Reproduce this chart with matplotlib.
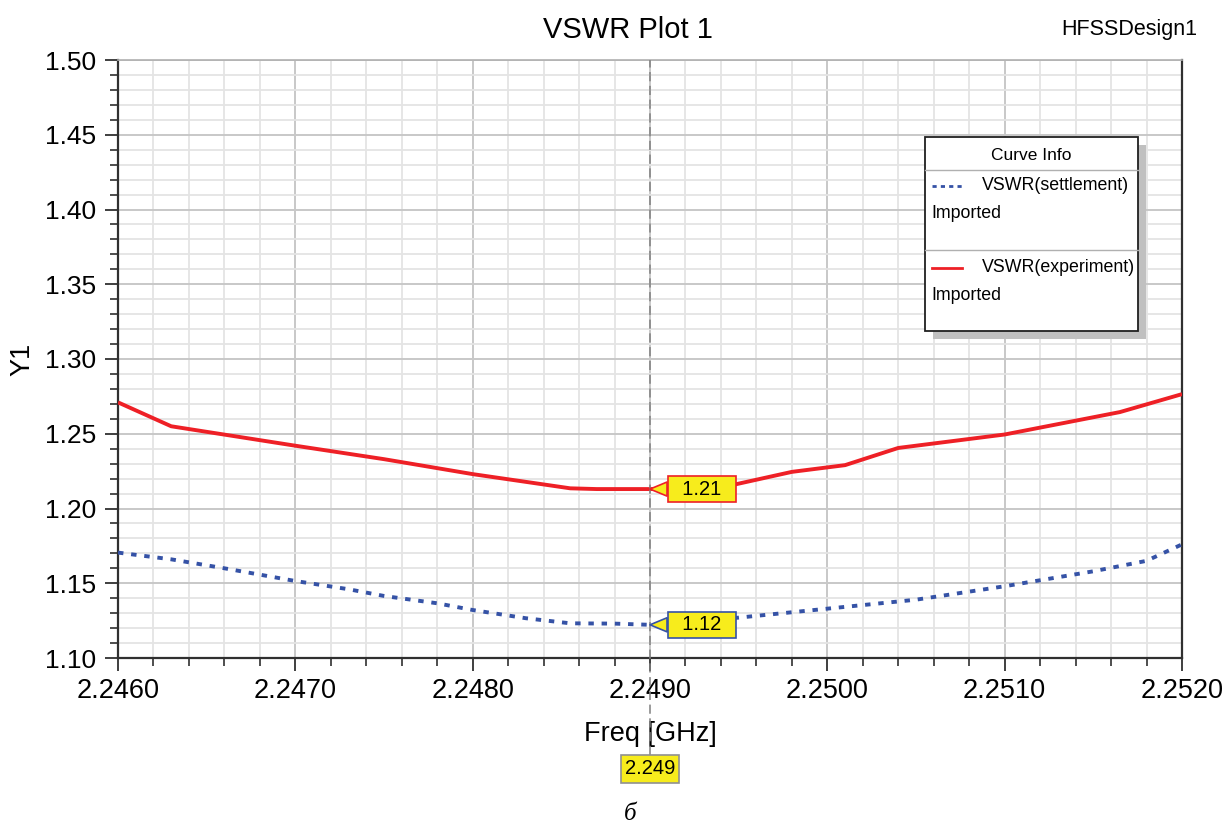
import numpy as np
import matplotlib
matplotlib.use("Agg")
import matplotlib.pyplot as plt
import matplotlib.ticker as ticker
from matplotlib.patches import Rectangle
from matplotlib.lines import Line2D

plt.rcParams['font.family'] = ['Liberation Sans', 'DejaVu Sans']

# --- data ---
exp_freq = [2.2460, 2.2463, 2.2470, 2.2475, 2.2480, 2.24855, 2.2487, 2.2490,
            2.2494, 2.2498, 2.2501, 2.2504, 2.2510, 2.25165, 2.2520]
exp_vswr = [1.271, 1.255, 1.242, 1.233, 1.223, 1.2135, 1.213, 1.213,
            1.214, 1.2245, 1.229, 1.2405, 1.2495, 1.2645, 1.2765]

set_freq = [2.2460, 2.2463, 2.2466, 2.2470, 2.2473, 2.2475, 2.2478, 2.2480,
            2.2483, 2.24855, 2.2488, 2.2490, 2.2495, 2.2500, 2.2505, 2.2510,
            2.2515, 2.2518, 2.2520]
set_vswr = [1.1705, 1.1660, 1.1600, 1.1515, 1.1460, 1.1415, 1.1366, 1.1321,
            1.1266, 1.1232, 1.1230, 1.1222, 1.1270, 1.1330, 1.1390, 1.1480,
            1.1580, 1.1650, 1.1760]

cursor_freq = 2.249
x_range = (2.2460, 2.2520)
y_range = (1.10, 1.50)

RED = '#ee2026'
BLUE = '#3552a6'
YELLOW = '#f7ec1c'

W, H = 1231, 831
fig = plt.figure(figsize=(W / 100, H / 100), dpi=100)
ax = fig.add_axes([118 / W, 1 - 658 / H, 1064 / W, 598 / H])


def fx(px):
    return px / W


def fy(py):
    return 1 - py / H


# grid
ax.set_xlim(*x_range)
ax.set_ylim(*y_range)
ax.xaxis.set_major_locator(ticker.MultipleLocator(0.001))
ax.xaxis.set_minor_locator(ticker.MultipleLocator(0.0002))
ax.yaxis.set_major_locator(ticker.MultipleLocator(0.05))
ax.yaxis.set_minor_locator(ticker.MultipleLocator(0.01))
ax.xaxis.set_major_formatter(ticker.FormatStrFormatter('%.4f'))
ax.yaxis.set_major_formatter(ticker.FormatStrFormatter('%.2f'))
ax.grid(which='minor', color='#e4e4e4', linewidth=1.3, zorder=0)
ax.grid(which='major', color='#c8c8c8', linewidth=1.4, zorder=0)
ax.set_axisbelow(True)

ax.tick_params(axis='both', which='major', direction='out', length=9.5,
               width=1.3, color='#303030', pad=6)
ax.tick_params(axis='both', which='minor', direction='out', length=5.5,
               width=1.2, color='#303030')
ax.tick_params(axis='x', which='major', labelsize=19.5, pad=5)
ax.tick_params(axis='y', which='major', labelsize=19)

for side in ['left', 'bottom', 'right']:
    ax.spines[side].set_color('#303030')
    ax.spines[side].set_linewidth(1.6)
ax.spines['top'].set_color('#b0b0b0')
ax.spines['top'].set_linewidth(1.2)

# curves
ax.plot(exp_freq, exp_vswr, color=RED, linewidth=2.8, zorder=3,
        solid_capstyle='butt')
ax.plot(set_freq, set_vswr, color=BLUE, linewidth=2.8, zorder=3,
        linestyle=(0, (1.4, 2.0)), dash_capstyle='butt')

# cursor line
ax.axvline(cursor_freq, ymin=-0.162, ymax=1, color='#808080', linewidth=1.1,
           linestyle=(0, (6, 3)), clip_on=False, zorder=4)

# marker callouts
for freq, vals, edge in [(exp_freq, exp_vswr, RED), (set_freq, set_vswr, BLUE)]:
    v = np.interp(cursor_freq, freq, vals)
    ax.annotate(f'  {v:.2f}  ', xy=(cursor_freq, v), xytext=(52, 0),
                textcoords='offset pixels', ha='center', va='center',
                fontsize=14.5, color='black', zorder=6,
                bbox=dict(boxstyle='square,pad=0.18', fc=YELLOW, ec=edge, lw=1.2),
                arrowprops=dict(arrowstyle='wedge,tail_width=0.7,shrink_factor=0.5',
                                fc=YELLOW, ec=edge, lw=1.2, shrinkA=0, shrinkB=0))

ax.annotate(f'{cursor_freq:.3f}', xy=(cursor_freq, 0),
            xycoords=('data', 'axes fraction'), xytext=(0, -111),
            textcoords='offset pixels', ha='center', va='center',
            fontsize=14.5, annotation_clip=False, zorder=6,
            bbox=dict(boxstyle='square,pad=0.2', fc=YELLOW, ec='#909090', lw=1.2))

# labels
ax.set_xlabel('Freq [GHz]', fontsize=19.5, labelpad=12)
ax.set_ylabel('Y1', fontsize=19.5, labelpad=7)
fig.text(fx(628), fy(30), 'VSWR Plot 1', fontsize=21, ha='center', va='center')
fig.text(fx(1197), fy(30), 'HFSSDesign1', fontsize=15.5, ha='right', va='center')
fig.text(fx(630), fy(814), 'б', fontsize=18, ha='center', va='center',
         family='Liberation Serif', style='italic')

# legend box ("Curve Info")
lx0, lx1, ly0, ly1 = 925, 1138, 137, 331
fig.patches.append(Rectangle((fx(lx0 + 8), fy(ly1 + 8)), fx(lx1 - lx0), (ly1 - ly0) / H,
                             transform=fig.transFigure, fc='#c0c0c0', ec='none',
                             zorder=7))
fig.patches.append(Rectangle((fx(lx0), fy(ly1)), fx(lx1 - lx0), (ly1 - ly0) / H,
                             transform=fig.transFigure, fc='white', ec='#202020',
                             lw=1.3, zorder=8))
fig.lines.append(Line2D([fx(lx0), fx(lx1)], [fy(170), fy(170)], transform=fig.transFigure,
                        color='#b0b0b0', lw=1.0, zorder=9))
fig.lines.append(Line2D([fx(lx0), fx(lx1)], [fy(250), fy(250)], transform=fig.transFigure,
                        color='#b0b0b0', lw=1.0, zorder=9))
fig.text(fx(1031), fy(155), 'Curve Info', fontsize=12.5, ha='center', va='center', zorder=10)

entries = [('VSWR(settlement)', BLUE, (0, (1.5, 1.5)), 186),
           ('VSWR(experiment)', RED, '-', 268)]
for label, col, ls, yy in entries:
    fig.lines.append(Line2D([fx(932), fx(962)], [fy(yy), fy(yy)], transform=fig.transFigure,
                            color=col, lw=2.0, linestyle=ls, zorder=10))
    fig.text(fx(982), fy(yy), label, fontsize=12.8, ha='left', va='center', zorder=10)
    fig.text(fx(931), fy(yy + 27), 'Imported', fontsize=12.8, ha='left', va='center',
             zorder=10)

fig.savefig('out.png', dpi=100)
